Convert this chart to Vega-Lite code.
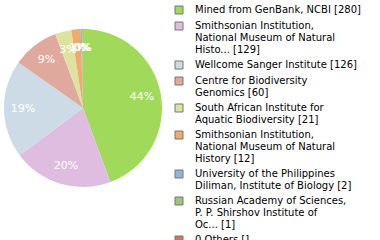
{
  "$schema": "https://vega.github.io/schema/vega-lite/v6.json",
  "autosize": "none",
  "width": 166,
  "height": 216,
  "padding": {"left": 0, "top": 0, "right": 214, "bottom": 24},
  "background": "white",
  "config": {"view": {"stroke": null}, "font": "DejaVu Sans"},
  "data": {
    "values": [
      {"name": "Mined from GenBank, NCBI [280]", "count": 280, "order": 1, "pct": "44%"},
      {"name": "Smithsonian Institution,|National Museum of Natural|Histo... [129]", "count": 129, "order": 2, "pct": "20%"},
      {"name": "Wellcome Sanger Institute [126]", "count": 126, "order": 3, "pct": "19%"},
      {"name": "Centre for Biodiversity|Genomics [60]", "count": 60, "order": 4, "pct": "9%"},
      {"name": "South African Institute for|Aquatic Biodiversity [21]", "count": 21, "order": 5, "pct": "3%"},
      {"name": "Smithsonian Institution,|National Museum of Natural|History [12]", "count": 12, "order": 6, "pct": "1%"},
      {"name": "University of the Philippines|Diliman, Institute of Biology [2]", "count": 2, "order": 7, "pct": "0%"},
      {"name": "Russian Academy of Sciences,|P. P. Shirshov Institute of|Oc... [1]", "count": 1, "order": 8, "pct": "0%"},
      {"name": "0 Others []", "count": 0, "order": 9, "pct": "0%"}
    ]
  },
  "encoding": {
    "theta": {"field": "count", "type": "quantitative", "stack": true},
    "order": {"field": "order", "type": "quantitative"}
  },
  "layer": [
    {
      "mark": {"type": "arc", "outerRadius": 79},
      "encoding": {
        "color": {
          "field": "name",
          "type": "nominal",
          "sort": {"field": "order"},
          "scale": {
            "domain": [
              "Mined from GenBank, NCBI [280]",
              "Smithsonian Institution,|National Museum of Natural|Histo... [129]",
              "Wellcome Sanger Institute [126]",
              "Centre for Biodiversity|Genomics [60]",
              "South African Institute for|Aquatic Biodiversity [21]",
              "Smithsonian Institution,|National Museum of Natural|History [12]",
              "University of the Philippines|Diliman, Institute of Biology [2]",
              "Russian Academy of Sciences,|P. P. Shirshov Institute of|Oc... [1]",
              "0 Others []"
            ],
            "range": ["#a1d95b", "#dfbde0", "#cddbe6", "#e0a99d", "#dde39e", "#f0aa6f", "#93b5da", "#9cc47a", "#d9705b"]
          },
          "legend": {
            "orient": "none",
            "legendX": 174,
            "legendY": 5,
            "title": null,
            "symbolType": "square",
            "symbolSize": 64,
            "symbolStrokeColor": "#777777",
            "symbolStrokeWidth": 1,
            "symbolOpacity": 1,
            "labelFont": "DejaVu Sans",
            "labelFontSize": 10,
            "labelColor": "#000000",
            "labelLimit": 300,
            "labelOffset": 11,
            "rowPadding": 4,
            "labelExpr": "split(datum.label, '|')"
          }
        }
      }
    },
    {
      "mark": {"type": "text", "radius": 60, "color": "white", "fontSize": 11, "font": "DejaVu Sans"},
      "encoding": {
        "text": {"field": "pct", "type": "nominal"}
      }
    }
  ]
}
